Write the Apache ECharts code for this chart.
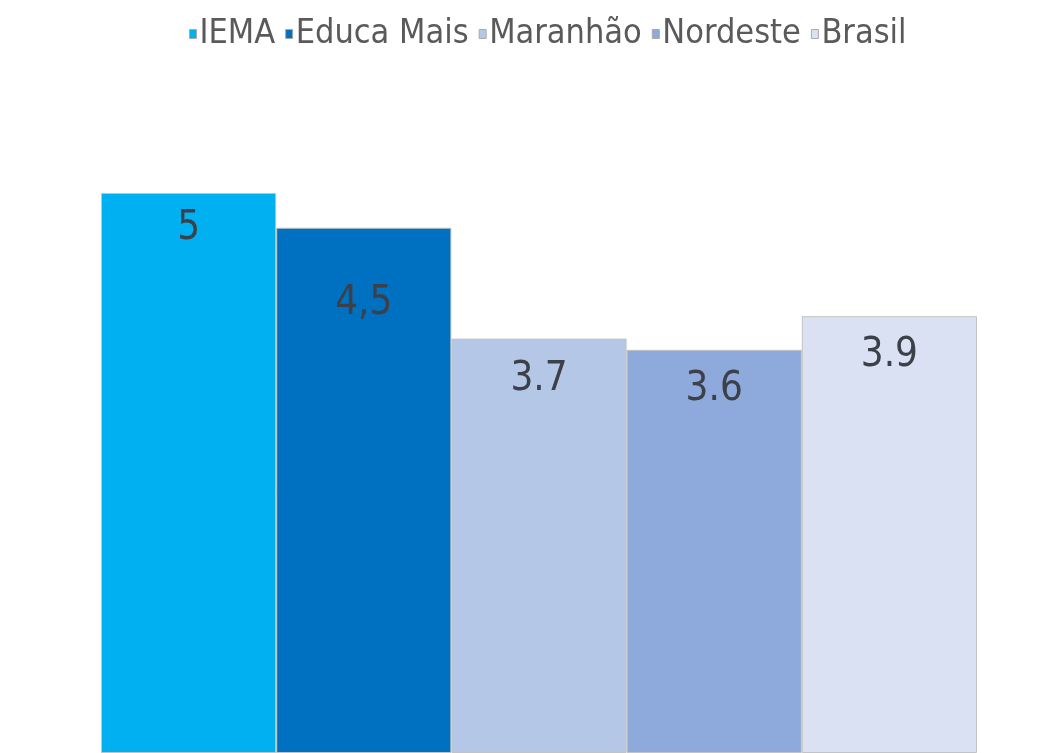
<!DOCTYPE html>
<html>
<head>
<meta charset="utf-8">
<script src="https://cdn.jsdelivr.net/npm/echarts@6/dist/echarts.min.js"></script>
<style>
html,body{margin:0;padding:0;background:#fff;}
#chart{width:1048px;height:753px;}
</style>
</head>
<body>
<div id="chart"></div>
<script>
var categories = [''];
var seriesNames = ['IEMA', 'Educa Mais', 'Maranhão', 'Nordeste', 'Brasil'];
var seriesValues = [5, 4.69, 3.7, 3.6, 3.9];
var labelTexts = ['5', '4,5', '3.7', '3.6', '3.9'];
var colors = ['#00B0F0', '#0070C0', '#B4C7E7', '#8EA9DB', '#D9E1F2'];
var labelDistances = [16, 56, 21, 20, 19];

var FONT = '"Liberation Sans Narrow", "Arial Narrow", "DejaVu Sans Condensed", "Liberation Sans", Arial, sans-serif';

var series = seriesNames.map(function (name, i) {
  return {
    name: name,
    type: 'bar',
    data: [seriesValues[i]],
    barGap: '0%',
    barCategoryGap: '0%',
    itemStyle: { color: colors[i], borderColor: '#c3c3c3', borderWidth: 1 },
    label: {
      show: true,
      position: 'insideTop',
      distance: labelDistances[i],
      formatter: labelTexts[i],
      fontFamily: FONT,
      fontSize: 40,
      color: '#3c4048'
    }
  };
});

var chart = echarts.init(document.getElementById('chart'));
chart.setOption({
  animation: false,
  backgroundColor: '#ffffff',
  legend: {
    top: 12,
    left: 184,
    itemWidth: 7,
    itemHeight: 9,
    itemGap: 10,
    icon: 'rect',
    itemStyle: { borderColor: '#aaaaaa', borderWidth: 1 },
    textStyle: { fontFamily: FONT, fontSize: 34, color: '#5a5a5a', padding: [0, 0, 0, -2] },
    data: seriesNames
  },
  grid: { left: 101, right: 71, top: 81, bottom: 0, containLabel: false },
  xAxis: {
    type: 'category',
    data: categories,
    axisLine: { show: false },
    axisTick: { show: false },
    axisLabel: { show: false }
  },
  yAxis: {
    type: 'value',
    min: 0,
    max: 6,
    interval: 1,
    show: false,
    splitLine: { show: false }
  },
  series: series
});
</script>
</body>
</html>
